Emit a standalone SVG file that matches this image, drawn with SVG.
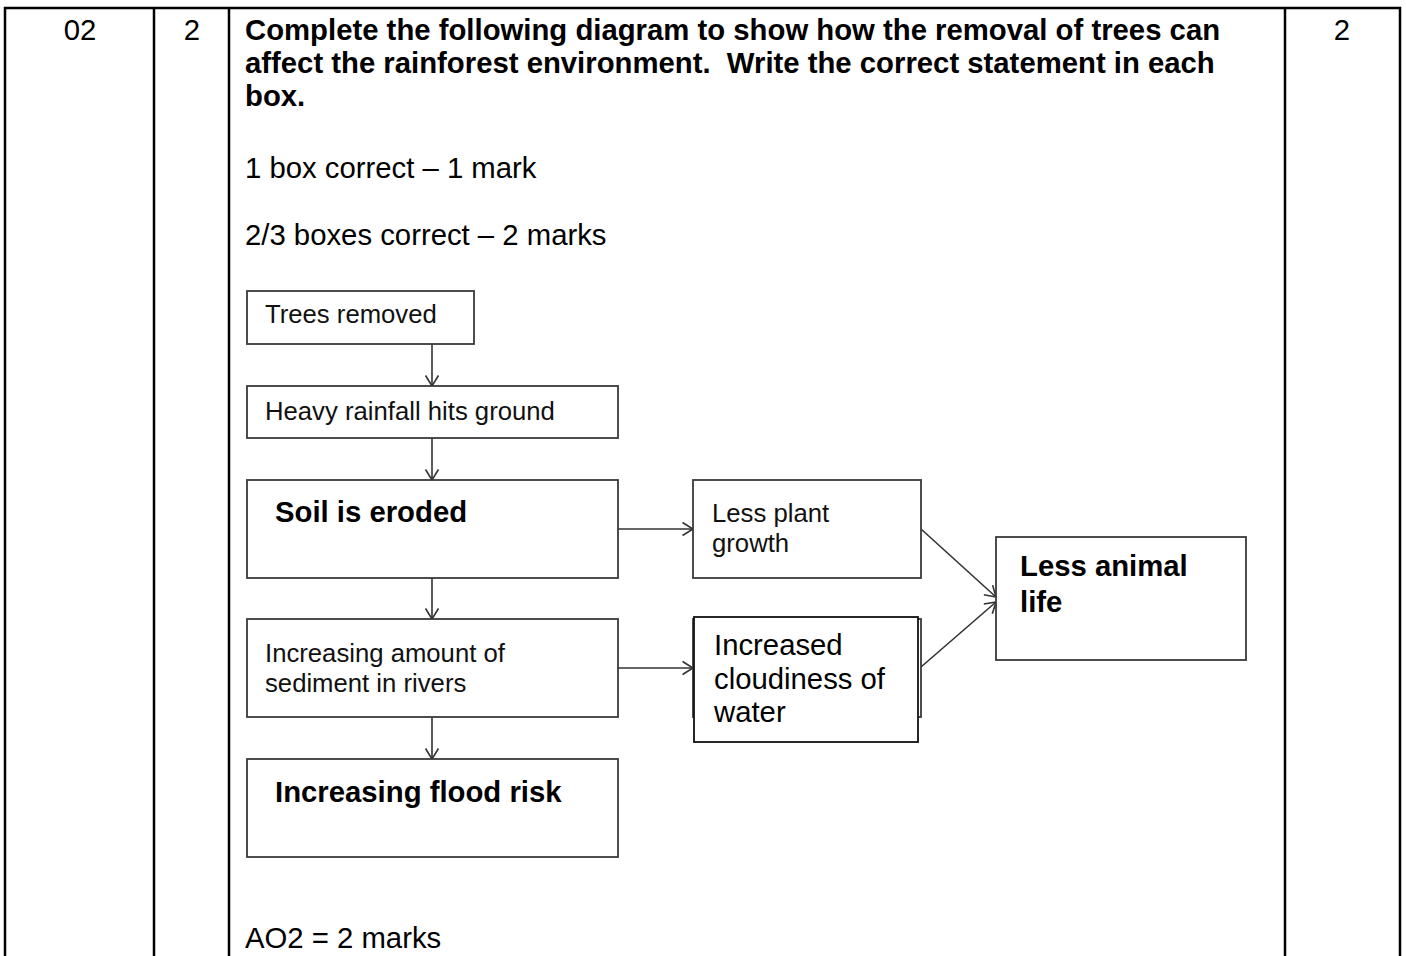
<svg xmlns="http://www.w3.org/2000/svg" width="1406" height="956" viewBox="0 0 1406 956">
<defs>
<style>
.t{font-family:"Liberation Sans",Arial,sans-serif;font-size:29.3px;fill:#000}
.b{font-weight:bold}
.d{font-family:"Liberation Sans",Arial,sans-serif;font-size:25.7px;fill:#111}
.db{font-family:"Liberation Sans",Arial,sans-serif;font-size:29.3px;font-weight:bold;fill:#000}
.dr{font-family:"Liberation Sans",Arial,sans-serif;font-size:29.3px;fill:#000}
.grid{stroke:#000;stroke-width:2.5;fill:none}
.box{fill:#fff;stroke:#3a3a3a;stroke-width:1.8}
.box2{fill:#fff;stroke:#111;stroke-width:1.8}
.con{stroke:#333;stroke-width:1.6;fill:none;marker-end:url(#ah)}
</style>
<marker id="ah" markerUnits="userSpaceOnUse" markerWidth="12" markerHeight="15" refX="10.5" refY="6.5" orient="auto" overflow="visible">
<path d="M0,0 L10.5,6.5 L0,13" fill="none" stroke="#333" stroke-width="1.6"/>
</marker>
</defs>
<rect width="1406" height="956" fill="#fff"/>
<g id="table">
<line class="grid" x1="4" y1="8" x2="1401" y2="8"/>
<line class="grid" x1="5" y1="7" x2="5" y2="956"/>
<line class="grid" x1="154" y1="7" x2="154" y2="956"/>
<line class="grid" x1="229" y1="7" x2="229" y2="956"/>
<line class="grid" x1="1285" y1="7" x2="1285" y2="956"/>
<line class="grid" x1="1400" y1="7" x2="1400" y2="956"/>
<text class="t" x="80" y="40" text-anchor="middle">02</text>
<text class="t" x="192" y="40" text-anchor="middle">2</text>
<text class="t" x="1342" y="40" text-anchor="middle">2</text>
<text class="t b" x="245" y="40">Complete the following diagram to show how the removal of trees can</text>
<text class="t b" x="245" y="73" style="white-space:pre">affect the rainforest environment.  Write the correct statement in each</text>
<text class="t b" x="245" y="106">box.</text>
<text class="t" x="245" y="178">1 box correct – 1 mark</text>
<text class="t" x="245" y="245">2/3 boxes correct – 2 marks</text>
<text class="t" x="245" y="948">AO2 = 2 marks</text>
</g>
<g id="connectors">
<line class="con" x1="432" y1="344" x2="432" y2="386"/>
<line class="con" x1="432" y1="438" x2="432" y2="480"/>
<line class="con" x1="432" y1="578" x2="432" y2="619"/>
<line class="con" x1="432" y1="717" x2="432" y2="759"/>
<line class="con" x1="618" y1="529" x2="693" y2="529"/>
<line class="con" x1="618" y1="668" x2="693" y2="668"/>
<line class="con" x1="921" y1="529" x2="996" y2="597"/>
<line class="con" x1="921" y1="667" x2="996" y2="602"/>
</g>
<g id="n-trees">
<rect class="box" x="247" y="291" width="227" height="53"/>
<text class="d" x="265" y="323">Trees removed</text>
</g>
<g id="n-rain">
<rect class="box" x="247" y="386" width="371" height="52"/>
<text class="d" x="265" y="420">Heavy rainfall hits ground</text>
</g>
<g id="n-soil">
<rect class="box" x="247" y="480" width="371" height="98"/>
<text class="db" x="275" y="522">Soil is eroded</text>
</g>
<g id="n-sediment">
<rect class="box" x="247" y="619" width="371" height="98"/>
<text class="d" x="265" y="662">Increasing amount of</text>
<text class="d" x="265" y="692">sediment in rivers</text>
</g>
<g id="n-flood">
<rect class="box" x="247" y="759" width="371" height="98"/>
<text class="db" x="275" y="802">Increasing flood risk</text>
</g>
<g id="n-plant">
<rect class="box" x="693" y="480" width="228" height="98"/>
<text class="d" x="712" y="522">Less plant</text>
<text class="d" x="712" y="552">growth</text>
</g>
<g id="n-cloud">
<rect class="box" x="693" y="619" width="228" height="98"/>
<rect class="box2" x="694" y="617" width="224" height="125"/>
<text class="dr" x="714" y="655">Increased</text>
<text class="dr" x="714" y="689">cloudiness of</text>
<text class="dr" x="714" y="722">water</text>
</g>
<g id="n-animal">
<rect class="box" x="996" y="537" width="250" height="123"/>
<text class="db" x="1020" y="576">Less animal</text>
<text class="db" x="1020" y="612">life</text>
</g>
</svg>
